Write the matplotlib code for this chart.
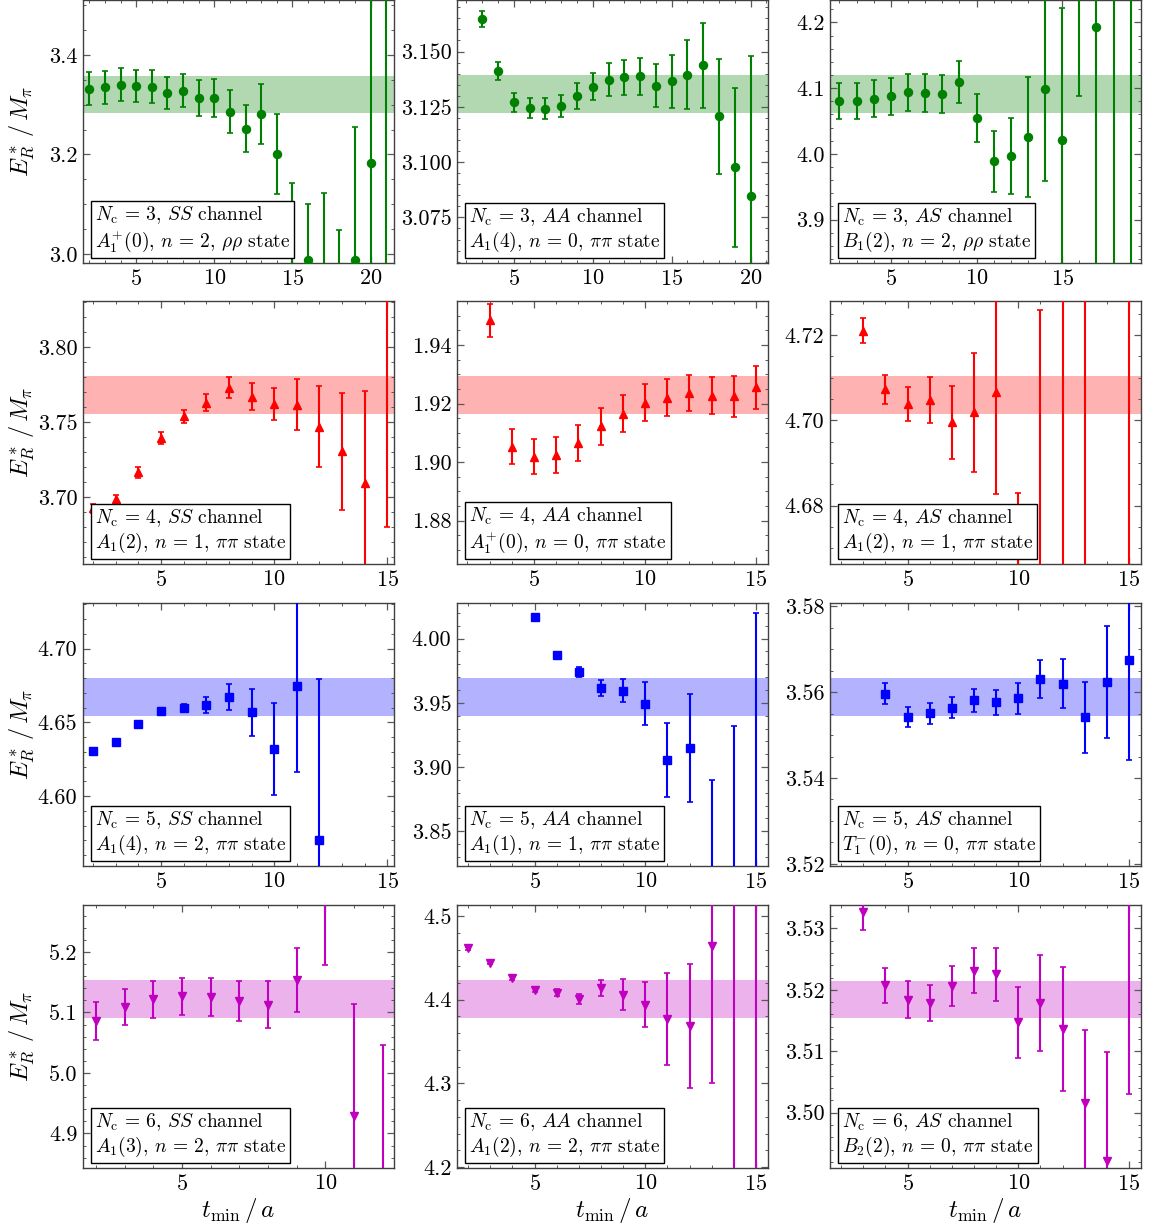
import matplotlib
matplotlib.use('Agg')
import matplotlib.pyplot as plt
from matplotlib.ticker import MultipleLocator, AutoMinorLocator, FormatStrFormatter

plt.rcParams.update({'font.family': 'serif', 'font.serif': ['cmr10'],
                     'mathtext.fontset': 'cm', 'axes.unicode_minus': False,
                     'axes.formatter.use_mathtext': True})

# ---------------- data ----------------
# Nc = 3
t_3SS = list(range(2, 22))
y_3SS = [3.332, 3.335, 3.340, 3.338, 3.336, 3.323, 3.328, 3.314, 3.314, 3.286,
         3.252, 3.281, 3.201, 2.950, 2.989, 2.950, 2.900, 2.989, 3.182, 3.600]
e_3SS = [0.033, 0.033, 0.033, 0.032, 0.033, 0.032, 0.033, 0.036, 0.038, 0.043,
         0.048, 0.061, 0.080, 0.193, 0.111, 0.173, 0.148, 0.266, 0.400, 0.700]
band_3SS = [3.283, 3.358]

t_3AA = list(range(3, 21))
y_3AA = [3.1648, 3.1413, 3.1270, 3.1244, 3.1241, 3.1253, 3.1298, 3.1340, 3.1372,
         3.1384, 3.1389, 3.1345, 3.1366, 3.1395, 3.1437, 3.1208, 3.0977, 3.0849]
e_3AA = [0.0037, 0.0041, 0.0042, 0.0044, 0.0047, 0.0050, 0.0060, 0.0061, 0.0075,
         0.0079, 0.0084, 0.0097, 0.0120, 0.0157, 0.0194, 0.0260, 0.0360, 0.0630]
band_3AA = [3.1224, 3.1395]

t_3AS = list(range(2, 20))
y_3AS = [4.0805, 4.0805, 4.0836, 4.0876, 4.0937, 4.0932, 4.0912, 4.109, 4.0546,
         3.9885, 3.9966, 4.0256, 4.0993, 4.0215, 4.300, 4.193, 4.300, 3.750]
e_3AS = [0.027, 0.028, 0.028, 0.028, 0.028, 0.029, 0.029, 0.032, 0.036,
         0.046, 0.058, 0.091, 0.141, 0.200, 0.212, 0.450, 0.600, 0.600]
band_3AS = [4.0622, 4.1197]

# Nc = 4
t_4SS = list(range(2, 16))
y_4SS = [3.6929, 3.6987, 3.7167, 3.7396, 3.754, 3.7633, 3.7733, 3.7673, 3.7622,
         3.7618, 3.7473, 3.7307, 3.7096, 3.860]
e_4SS = [0.0030, 0.0032, 0.0036, 0.0040, 0.0043, 0.0056, 0.0070, 0.0087, 0.0108,
         0.0169, 0.027, 0.039, 0.0613, 0.180]
band_4SS = [3.7556, 3.7809]

t_4AA = list(range(3, 16))
y_4AA = [1.9484, 1.9053, 1.9019, 1.9025, 1.9065, 1.9122, 1.9165, 1.9203, 1.9220,
         1.9236, 1.9227, 1.9224, 1.9255]
e_4AA = [0.0057, 0.0061, 0.0061, 0.0061, 0.0062, 0.0062, 0.0063, 0.0063, 0.0062,
         0.0061, 0.0064, 0.0069, 0.0074]
band_4AA = [1.9164, 1.9293]

t_4AS = [3, 4, 5, 6, 7, 8, 9, 10, 11, 12, 13, 15]
y_4AS = [4.721, 4.7073, 4.7038, 4.7048, 4.6995, 4.7019, 4.7066, 4.640, 4.660,
         4.745, 4.650, 4.750]
e_4AS = [0.0029, 0.0034, 0.0040, 0.0054, 0.0085, 0.0139, 0.0238, 0.043, 0.066,
         0.100, 0.100, 0.100]
band_4AS = [4.7014, 4.7103]

# Nc = 5
t_5SS = list(range(2, 13))
y_5SS = [4.6309, 4.637, 4.649, 4.658, 4.6596, 4.6619, 4.6673, 4.6569, 4.632,
         4.6745, 4.5704]
e_5SS = [0.0010, 0.0010, 0.0012, 0.0015, 0.0028, 0.0052, 0.0090, 0.016, 0.031,
         0.058, 0.109]
band_5SS = [4.6542, 4.6801]

t_5AA = list(range(5, 16))
y_5AA = [4.0168, 3.987, 3.9741, 3.9617, 3.9593, 3.9492, 3.9052, 3.915, 3.800,
         3.800, 3.810]
e_5AA = [0.0010, 0.0015, 0.0041, 0.0063, 0.0090, 0.0168, 0.0288, 0.042, 0.090,
         0.132, 0.210]
band_5AA = [3.9396, 3.9694]

t_5AS = list(range(4, 16))
y_5AS = [3.5597, 3.5543, 3.5551, 3.5564, 3.5581, 3.5577, 3.5586, 3.5630, 3.5620,
         3.5542, 3.5624, 3.5675]
e_5AS = [0.0024, 0.0023, 0.0024, 0.0025, 0.0026, 0.0029, 0.0036, 0.0044, 0.0057,
         0.0083, 0.0131, 0.0233]
band_5AS = [3.5545, 3.5634]

# Nc = 6
t_6SS = list(range(2, 13))
y_6SS = [5.0855, 5.1087, 5.1214, 5.127, 5.1253, 5.1186, 5.1131, 5.154, 5.310,
         4.9288, 4.800]
e_6SS = [0.031, 0.030, 0.0307, 0.0307, 0.0315, 0.033, 0.039, 0.053, 0.131,
         0.185, 0.247]
band_6SS = [5.0904, 5.153]

t_6AA = list(range(2, 16))
y_6AA = [4.4612, 4.4443, 4.4263, 4.4119, 4.4083, 4.4011, 4.4139, 4.4059, 4.3939,
         4.3771, 4.369, 4.4644, 4.150, 4.550]
e_6AA = [0.0015, 0.0020, 0.0025, 0.0030, 0.0040, 0.0060, 0.0096, 0.0186, 0.0268,
         0.0549, 0.074, 0.164, 0.400, 0.400]
band_6AA = [4.3779, 4.4231]

t_6AS = list(range(3, 16))
y_6AS = [3.5327, 3.5207, 3.5184, 3.5178, 3.5206, 3.5231, 3.5225, 3.5147, 3.5178,
         3.5136, 3.5015, 3.4921, 3.536]
e_6AS = [0.0029, 0.0029, 0.0030, 0.0029, 0.0033, 0.0037, 0.0043, 0.0058, 0.0078,
         0.0101, 0.0119, 0.0177, 0.033]
band_6AS = [3.5154, 3.5215]

line1 = [r"$N_{\rm c}\,=\,3$, $SS$ channel", r"$N_{\rm c}\,=\,3$, $AA$ channel", r"$N_{\rm c}\,=\,3$, $AS$ channel",
         r"$N_{\rm c}\,=\,4$, $SS$ channel", r"$N_{\rm c}\,=\,4$, $AA$ channel", r"$N_{\rm c}\,=\,4$, $AS$ channel",
         r"$N_{\rm c}\,=\,5$, $SS$ channel", r"$N_{\rm c}\,=\,5$, $AA$ channel", r"$N_{\rm c}\,=\,5$, $AS$ channel",
         r"$N_{\rm c}\,=\,6$, $SS$ channel", r"$N_{\rm c}\,=\,6$, $AA$ channel", r"$N_{\rm c}\,=\,6$, $AS$ channel"]
line2 = [r"$A_1^{+}(0)$, $n\,=\,2$, $\rho\rho$ state", r"$A_1(4)$, $n\,=\,0$, $\pi\pi$ state",
         r"$B_1(2)$, $n\,=\,2$, $\rho\rho$ state",
         r"$A_1(2)$, $n\,=\,1$, $\pi\pi$ state", r"$A_1^{+}(0)$, $n\,=\,0$, $\pi\pi$ state",
         r"$A_1(2)$, $n\,=\,1$, $\pi\pi$ state",
         r"$A_1(4)$, $n\,=\,2$, $\pi\pi$ state", r"$A_1(1)$, $n\,=\,1$, $\pi\pi$ state",
         r"$T_1^{-}(0)$, $n\,=\,0$, $\pi\pi$ state",
         r"$A_1(3)$, $n\,=\,2$, $\pi\pi$ state", r"$A_1(2)$, $n\,=\,2$, $\pi\pi$ state",
         r"$B_2(2)$, $n\,=\,0$, $\pi\pi$ state"]

series = [(t_3SS, y_3SS, e_3SS, band_3SS), (t_3AA, y_3AA, e_3AA, band_3AA), (t_3AS, y_3AS, e_3AS, band_3AS),
          (t_4SS, y_4SS, e_4SS, band_4SS), (t_4AA, y_4AA, e_4AA, band_4AA), (t_4AS, y_4AS, e_4AS, band_4AS),
          (t_5SS, y_5SS, e_5SS, band_5SS), (t_5AA, y_5AA, e_5AA, band_5AA), (t_5AS, y_5AS, e_5AS, band_5AS),
          (t_6SS, y_6SS, e_6SS, band_6SS), (t_6AA, y_6AA, e_6AA, band_6AA), (t_6AS, y_6AS, e_6AS, band_6AS)]

# ---------------- styling ----------------
row_colors = ['#008000', '#ff0000', '#0000ff', '#bf00bf']
row_markers = ['o', '^', 's', 'v']
row_ms = [5.8, 6.2, 5.2, 6.2]
xlims = [(1.6, 21.5), (1.4, 21.1), (1.45, 19.6),
         (1.55, 15.3), (1.53, 15.54), (1.5, 15.54),
         (1.55, 15.3), (1.5, 15.54), (1.5, 15.54),
         (1.55, 12.4), (1.5, 15.54), (1.5, 15.54)]
ylims = [(2.982, 3.51), (3.0544, 3.1733), (3.834, 4.234),
         (3.6556, 3.831), (1.8652, 1.955), (4.6663, 4.728),
         (4.5526, 4.731), (3.823, 4.0277), (3.5195, 3.5808),
         (4.843, 5.2775), (4.1988, 4.5132), (3.491, 3.5338)]
ysteps = [0.2, 0.025, 0.1, 0.05, 0.02, 0.02, 0.05, 0.05, 0.02, 0.1, 0.1, 0.01]
yfmts = ['%.1f', '%.3f', '%.1f', '%.2f', '%.2f', '%.2f', '%.2f', '%.2f', '%.2f',
         '%.1f', '%.1f', '%.2f']

W, H = 1150, 1226
lefts = [83, 457, 830]
tops = [0, 301, 603, 905]
aw, ah = 311, 263

fig = plt.figure(figsize=(W / 100, H / 100), dpi=100)

for i, (t, y, e, band) in enumerate(series):
    r, c = divmod(i, 3)
    ax = fig.add_axes([lefts[c] / W, 1 - (tops[r] + ah) / H, aw / W, ah / H])
    col = row_colors[r]
    ax.axhspan(band[0], band[1], color=col, alpha=0.3, lw=0, zorder=1)
    ax.errorbar(t, y, yerr=e, fmt=row_markers[r], color=col, ms=row_ms[r],
                capsize=2.5, elinewidth=1.5, capthick=1.2, zorder=3)
    ax.set_xlim(*xlims[i])
    ax.set_ylim(*ylims[i])
    ax.xaxis.set_major_locator(MultipleLocator(5))
    ax.xaxis.set_minor_locator(AutoMinorLocator())
    ax.yaxis.set_major_locator(MultipleLocator(ysteps[i]))
    ax.yaxis.set_major_formatter(FormatStrFormatter(yfmts[i]))
    ax.yaxis.set_minor_locator(AutoMinorLocator())
    ax.tick_params(which='both', direction='in', top=True, right=True,
                   color='0.35', labelsize=16, pad=4)
    ax.tick_params(which='major', length=5, width=0.9)
    ax.tick_params(which='minor', length=2.5, width=0.7)
    for s in ax.spines.values():
        s.set_color('0.25')
        s.set_linewidth(1.0)
    ax.text(0.038, 0.035, line1[i] + "\n" + line2[i], transform=ax.transAxes,
            ha='left', va='bottom', fontsize=14, linespacing=1.12, zorder=5,
            bbox=dict(boxstyle='square,pad=0.22', fc='white', ec='black', lw=1.0))
    if c == 0:
        ax.set_ylabel(r"$E_R^*\,/\,M_\pi$", fontsize=17.5)
        ax.yaxis.set_label_coords(-0.15, 0.5)
    if r == 3:
        ax.set_xlabel(r"$t_{\rm min}\,/\,a$", fontsize=18)
        ax.xaxis.set_label_coords(0.5, -0.105)

fig.savefig('out.png', dpi=100)
